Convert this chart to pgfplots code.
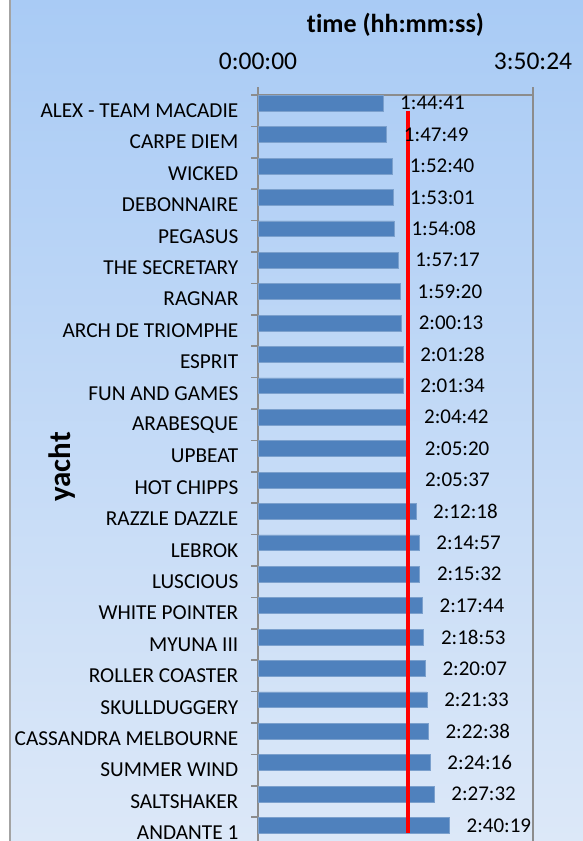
\documentclass[border=0pt]{standalone}
\usepackage{pgfplots}
\pgfplotsset{compat=1.18}
\usepackage{pgfplotstable}
\usepackage{fontspec}
\setmainfont{Carlito}[Ligatures=NoCommon]
\definecolor{barblue}{HTML}{4F81BD}
\definecolor{bgtop}{HTML}{A9CBF5}
\definecolor{bgbot}{HTML}{DCE8F8}
\definecolor{axgray}{HTML}{8C8C8C}

\pgfplotstableread[col sep=comma]{
y,t,lab
-0.24,6281,1:44:41
0.76,6469,1:47:49
1.76,6760,1:52:40
2.76,6781,1:53:01
3.76,6848,1:54:08
4.76,7037,1:57:17
5.76,7160,1:59:20
6.76,7213,2:00:13
7.76,7288,2:01:28
8.76,7294,2:01:34
9.76,7482,2:04:42
10.76,7520,2:05:20
11.76,7537,2:05:37
12.76,7938,2:12:18
13.76,8097,2:14:57
14.76,8132,2:15:32
15.76,8264,2:17:44
16.76,8333,2:18:53
17.76,8407,2:20:07
18.76,8493,2:21:33
19.76,8558,2:22:38
20.76,8656,2:24:16
21.76,8852,2:27:32
22.76,9619,2:40:19
}\timedata

\begin{document}
\begin{tikzpicture}[x=1pt,y=1pt]
\useasboundingbox (0,0) rectangle (583,841);
\fill[white] (0,0) rectangle (583,841);
\shade[top color=bgtop, bottom color=bgbot] (9,0) rectangle (583,841);
\draw[axgray!80, line width=2pt] (10,0) -- (10,841);
\begin{axis}[
  at={(258pt,746pt)}, anchor=north west,
  width=275pt, height=753.6pt, scale only axis,
  xmin=0, xmax=13824, ymin=-0.5, ymax=23.5, y dir=reverse,
  scaled x ticks=false,
  axis line style={axgray, line width=1.5pt},
  tick align=outside,
  xtick={0,13824}, xticklabels={0:00:00,3:50:24},
  xticklabel pos=upper, xtick pos=upper,
  xtick style={axgray, line width=1.5pt},
  major tick length=8pt,
  xticklabel style={font=\fontsize{25.5}{30}\selectfont, anchor=base, inner sep=0pt, yshift=18pt},
  ytick={0,...,23},
  yticklabels={ALEX - TEAM MACADIE,CARPE DIEM,WICKED,DEBONNAIRE,PEGASUS,THE SECRETARY,RAGNAR,ARCH DE TRIOMPHE,ESPRIT,FUN AND GAMES,ARABESQUE,UPBEAT,HOT CHIPPS,RAZZLE DAZZLE,LEBROK,LUSCIOUS,WHITE POINTER,MYUNA III,ROLLER COASTER,SKULLDUGGERY,CASSANDRA MELBOURNE,SUMMER WIND,SALTSHAKER,ANDANTE 1},
  ytick pos=left,
  ytick style={draw=none},
  yticklabel style={font=\fontsize{21.3}{25}\selectfont, anchor=east, inner sep=0pt, xshift=-11.5pt},
  extra y ticks={-0.5,0.5,...,23.5},
  extra y tick labels={},
  extra y tick style={ytick style={draw=axgray, line width=1.5pt}, major tick length=6.5pt},
  axis background/.style={fill=none},
]
\addplot[xbar, bar width=0.5, fill=barblue, draw=barblue!75!white, line width=0.6pt,
  nodes near coords, point meta=explicit symbolic,
  every node near coord/.append style={anchor=west, inner sep=0pt, xshift=17pt, font=\fontsize{21}{25}\selectfont, text=black}]
  table[x=t, y=y, meta=lab] {\timedata};
\addplot[red, line width=3.5pt] coordinates {(7540,0) (7540,23)};
\end{axis}
\node[font=\bfseries\fontsize{26}{31}\selectfont, anchor=base] at (395.5,808) {time (hh:mm:ss)};
\node[font=\bfseries\fontsize{31}{36}\selectfont, rotate=90] at (62,374) {yacht};
\end{tikzpicture}
\end{document}
